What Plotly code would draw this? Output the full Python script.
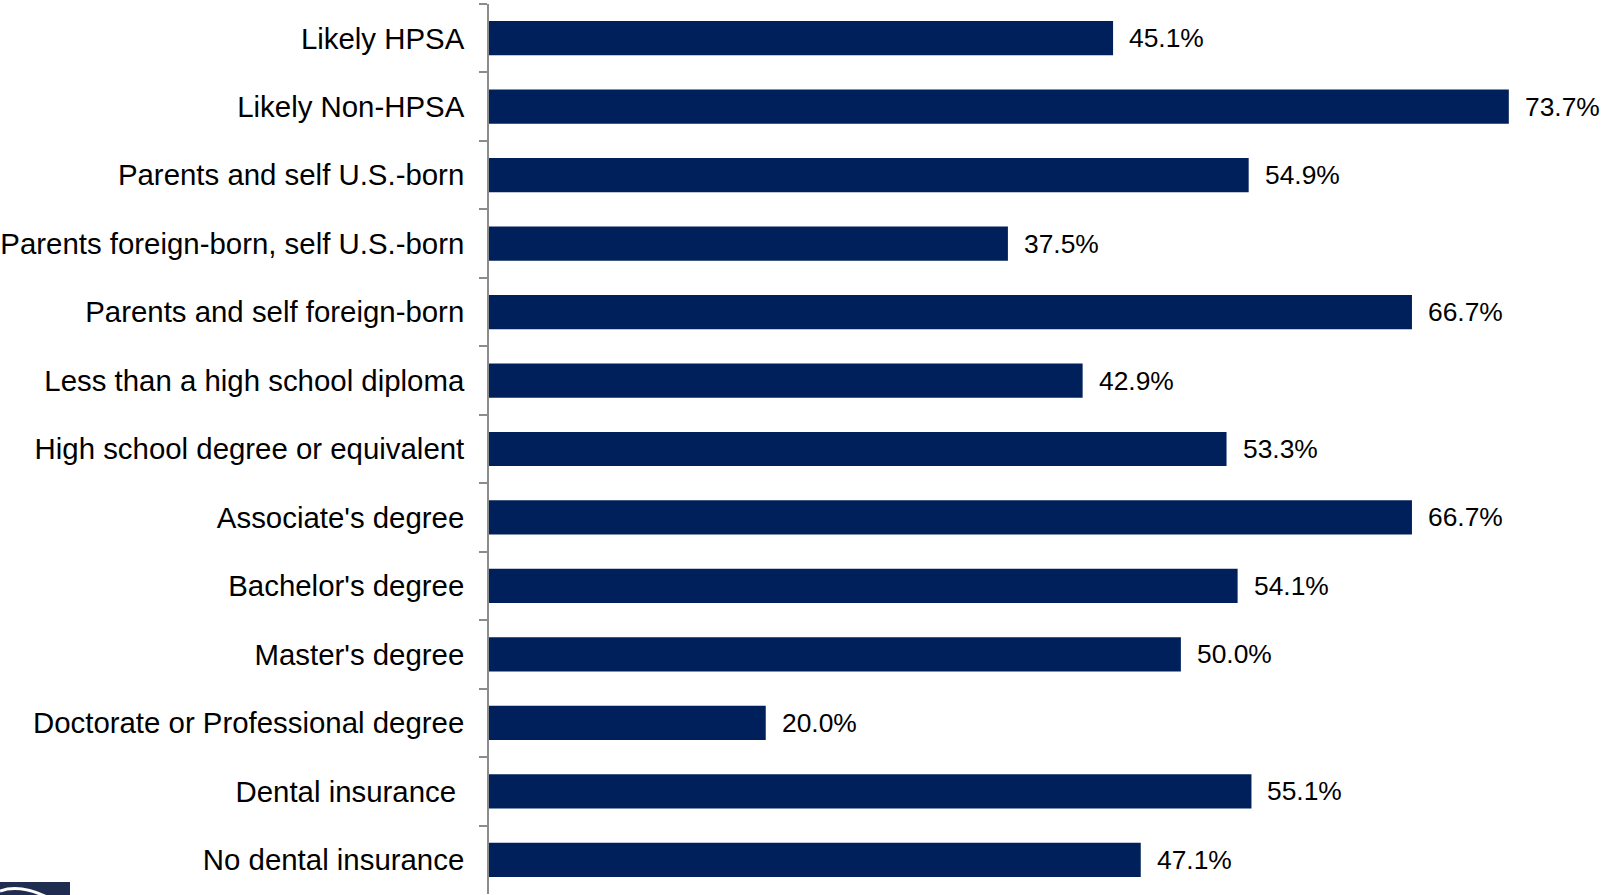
import plotly.graph_objects as go

categories = [
    "Likely HPSA",
    "Likely Non-HPSA",
    "Parents and self U.S.-born",
    "Parents foreign-born, self U.S.-born",
    "Parents and self foreign-born",
    "Less than a high school diploma",
    "High school degree or equivalent",
    "Associate's degree",
    "Bachelor's degree",
    "Master's degree",
    "Doctorate or Professional degree",
    "Dental insurance\u00a0",
    "No dental insurance",
]
values = [45.1, 73.7, 54.9, 37.5, 66.7, 42.9, 53.3, 66.7, 54.1, 50.0, 20.0, 55.1, 47.1]
value_labels = [f"{v:.1f}%" for v in values]

W, H = 1602, 895
ML, MR, MT, MB = 489, 6, 4, 1
BAR = "#00205B"
AXIS = "#8c8c8c"

fig = go.Figure(
    go.Bar(
        x=values,
        y=categories,
        orientation="h",
        marker=dict(color=BAR, line=dict(width=0)),
        hoverinfo="skip",
    )
)

for v, c, t in zip(values, categories, value_labels):
    fig.add_annotation(
        x=v, y=c, text=t, showarrow=False, xanchor="left", yanchor="middle",
        xshift=14, font=dict(family="Liberation Sans, Arial", size=26.4, color="#000000"),
    )

# partial logo in the bottom-left corner
pw = W - ML - MR
ph = H - MT - MB
def px(x):
    return (x - ML) / pw
def py(y):
    return (H - MB - y) / ph

fig.add_shape(type="rect", xref="paper", yref="paper",
              x0=px(0), x1=px(70), y0=py(882), y1=py(900),
              fillcolor="#1F2D50", line=dict(width=0), layer="above")
fig.add_shape(type="path", xref="paper", yref="paper",
              path=f"M {px(0)},{py(891)} Q {px(20)},{py(884)} {px(47)},{py(897)}",
              line=dict(color="white", width=3), layer="above")

fig.update_layout(
    width=W, height=H,
    margin=dict(l=ML, r=MR, t=MT, b=MB, pad=0),
    paper_bgcolor="white", plot_bgcolor="white",
    bargap=0.5,
    showlegend=False,
    font=dict(family="Liberation Sans, Arial", color="#000000"),
    xaxis=dict(range=[0, 80], showgrid=False, zeroline=False, showticklabels=False,
               ticks="", showline=False, fixedrange=True),
    yaxis=dict(autorange="reversed", showgrid=False, zeroline=False,
               showline=True, linecolor=AXIS, linewidth=1.7,
               ticks="outside", tickson="boundaries", ticklen=8, tickcolor=AXIS, tickwidth=1.5,
               ticklabelstandoff=17,
               tickfont=dict(family="Liberation Sans, Arial", size=29.4, color="#000000"),
               fixedrange=True),
)

fig.write_html("out.html", config={"displayModeBar": False},
               post_script="document.body.style.margin='0';document.body.style.overflow='hidden';")
